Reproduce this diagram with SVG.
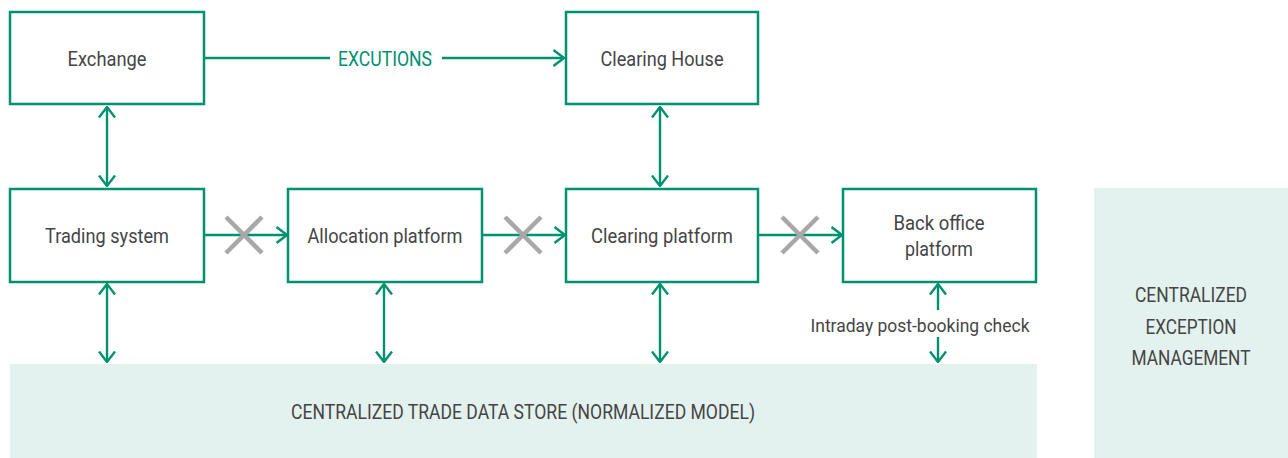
<svg xmlns="http://www.w3.org/2000/svg" width="1288" height="458" viewBox="0 0 1288 458">
<defs>
<marker id="ah" markerUnits="userSpaceOnUse" viewBox="0 0 12 18" refX="11" refY="9" markerWidth="12" markerHeight="18" orient="auto-start-reverse">
<path d="M0.5,1 L11,9 L0.5,17" fill="none" stroke="#00926f" stroke-width="2.4"/>
</marker>
<style>
.box{fill:#fff;stroke:#00926f;stroke-width:2.5}
.zone{fill:#e3f2ee}
.lbl{font-family:Roboto,"Liberation Sans",sans-serif;font-size:21px;fill:#454545;text-anchor:middle}
.sm{font-size:18px}
.con{stroke:#00926f;stroke-width:2.4;fill:none}
.x{stroke:#a8a8a8;stroke-width:4.5}
.edge{font-family:Roboto,"Liberation Sans",sans-serif;font-size:21px;fill:#00926f;text-anchor:middle}
</style>
</defs>
<rect width="1288" height="458" fill="#fff"/>
<g id="trade-data-store">
<rect class="zone" x="10" y="364" width="1027" height="94"/>
<text class="lbl" x="523" y="419" textLength="464" lengthAdjust="spacingAndGlyphs">CENTRALIZED TRADE DATA STORE (NORMALIZED MODEL)</text>
</g>
<g id="exception-management">
<rect class="zone" x="1094" y="188" width="194" height="270"/>
<text class="lbl" x="1191" y="302" textLength="112" lengthAdjust="spacingAndGlyphs">CENTRALIZED</text>
<text class="lbl" x="1191" y="334" textLength="91" lengthAdjust="spacingAndGlyphs">EXCEPTION</text>
<text class="lbl" x="1191" y="365" textLength="119" lengthAdjust="spacingAndGlyphs">MANAGEMENT</text>
</g>
<g id="connectors">
<line class="con" x1="205" y1="58" x2="330" y2="58"/>
<line class="con" x1="442" y1="58" x2="564" y2="58" marker-end="url(#ah)"/>
<text class="edge" x="385" y="66" textLength="94" lengthAdjust="spacingAndGlyphs">EXCUTIONS</text>
<line class="con" x1="107" y1="107" x2="107" y2="186" marker-start="url(#ah)" marker-end="url(#ah)"/>
<line class="con" x1="660" y1="107" x2="660" y2="186" marker-start="url(#ah)" marker-end="url(#ah)"/>
<line class="con" x1="205" y1="235" x2="287" y2="235" marker-end="url(#ah)"/>
<line class="con" x1="482" y1="235" x2="565" y2="235" marker-end="url(#ah)"/>
<line class="con" x1="759" y1="235" x2="842" y2="235" marker-end="url(#ah)"/>
<line class="con" x1="107" y1="284" x2="107" y2="362" marker-start="url(#ah)" marker-end="url(#ah)"/>
<line class="con" x1="384" y1="284" x2="384" y2="362" marker-start="url(#ah)" marker-end="url(#ah)"/>
<line class="con" x1="660" y1="284" x2="660" y2="362" marker-start="url(#ah)" marker-end="url(#ah)"/>
<line class="con" x1="938" y1="284" x2="938" y2="310" marker-start="url(#ah)"/>
<line class="con" x1="938" y1="337" x2="938" y2="362" marker-end="url(#ah)"/>
<text class="lbl sm" x="920" y="332" textLength="219" lengthAdjust="spacingAndGlyphs">Intraday post-booking check</text>
<path class="x" d="M226,217 L262,253 M262,217 L226,253"/>
<path class="x" d="M505,217 L541,253 M541,217 L505,253"/>
<path class="x" d="M782,217 L818,253 M818,217 L782,253"/>
</g>
<g id="exchange">
<rect class="box" x="10" y="12" width="194" height="92"/>
<text class="lbl" x="107" y="66" textLength="79" lengthAdjust="spacingAndGlyphs">Exchange</text>
</g>
<g id="clearing-house">
<rect class="box" x="566" y="12" width="192" height="92"/>
<text class="lbl" x="662" y="66" textLength="123" lengthAdjust="spacingAndGlyphs">Clearing House</text>
</g>
<g id="trading-system">
<rect class="box" x="10" y="189" width="194" height="93"/>
<text class="lbl" x="107" y="243" textLength="124" lengthAdjust="spacingAndGlyphs">Trading system</text>
</g>
<g id="allocation-platform">
<rect class="box" x="288" y="189" width="194" height="93"/>
<text class="lbl" x="385" y="243" textLength="155" lengthAdjust="spacingAndGlyphs">Allocation platform</text>
</g>
<g id="clearing-platform">
<rect class="box" x="566" y="189" width="192" height="93"/>
<text class="lbl" x="662" y="243" textLength="142" lengthAdjust="spacingAndGlyphs">Clearing platform</text>
</g>
<g id="back-office-platform">
<rect class="box" x="843" y="189" width="193" height="93"/>
<text class="lbl" x="939" y="230" textLength="91" lengthAdjust="spacingAndGlyphs">Back office</text>
<text class="lbl" x="939" y="256" textLength="68" lengthAdjust="spacingAndGlyphs">platform</text>
</g>
</svg>
